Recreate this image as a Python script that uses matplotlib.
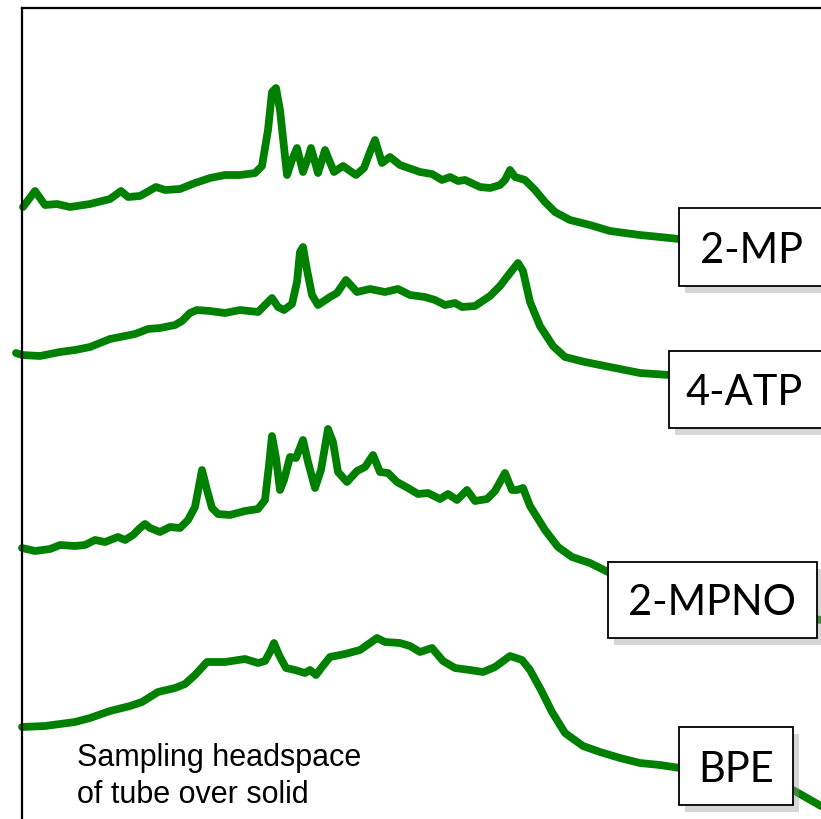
import matplotlib
matplotlib.use("Agg")
import matplotlib.pyplot as plt
import matplotlib.patheffects as pe
from matplotlib.patches import Rectangle

# spectra (x = shift position, y = offset intensity, screen units)
mp2_x = [23, 35, 45, 57, 70, 90, 110, 121, 128, 140, 156, 165, 180, 195, 210, 225, 240, 255, 262,
         268, 272, 276, 280, 287, 292, 297, 303, 308, 311, 318, 322, 325, 334, 343, 356, 364, 370,
         375, 382, 390, 400, 420, 432, 442, 450, 458, 465, 480, 490, 500, 505, 510, 515, 525, 535,
         545, 555, 570, 590, 610, 640, 660, 679]
mp2_y = [207, 191, 205, 204, 207, 204, 199, 191, 197, 196, 187, 190, 189, 183, 178, 175, 175, 173, 166,
         130, 92, 88, 110, 175, 160, 148, 172, 158, 148, 173, 160, 150, 172, 166, 175, 168, 152,
         140, 163, 157, 165, 172, 174, 180, 177, 181, 180, 187, 188, 185, 180, 170, 177, 180, 190,
         202, 212, 220, 225, 231, 235, 237, 239]

atp4_x = [16, 22, 40, 60, 75, 90, 110, 125, 135, 148, 160, 175, 182, 190, 197, 210, 225, 240, 258,
          265, 272, 278, 284, 292, 297, 300, 303, 307, 312, 318, 330, 337, 346, 357, 370, 385, 398,
          410, 425, 435, 445, 455, 462, 475, 490, 500, 510, 518, 523, 530, 540, 553, 565, 585, 610,
          640, 669]
atp4_y = [353, 355, 356, 352, 350, 347, 339, 336, 334, 329, 328, 325, 321, 313, 310, 311, 313, 310, 312,
          305, 298, 307, 310, 304, 282, 252, 247, 270, 295, 305, 297, 293, 280, 292, 289, 292, 289,
          295, 297, 300, 305, 303, 307, 306, 296, 286, 273, 263, 271, 302, 326, 346, 357, 362, 367,
          373, 375]

mpno_x = [22, 35, 50, 60, 75, 85, 95, 105, 118, 125, 133, 140, 145, 150, 160, 170, 180, 188, 195,
          202, 207, 212, 218, 230, 245, 258, 265, 269, 272, 276, 280, 284, 290, 296, 303, 308, 315,
          321, 328, 333, 338, 347, 357, 365, 373, 380, 388, 397, 408, 418, 428, 440, 448, 457, 467,
          475, 487, 495, 505, 512, 517, 523, 530, 545, 558, 572, 590, 608, 650, 700, 760, 821]
mpno_y = [548, 551, 549, 545, 546, 545, 540, 542, 537, 540, 535, 528, 524, 528, 532, 527, 528, 520, 507,
          470, 490, 508, 514, 515, 511, 509, 500, 465, 436, 458, 490, 480, 457, 458, 440, 462, 488,
          470, 429, 442, 472, 482, 471, 467, 455, 472, 473, 482, 488, 494, 493, 499, 494, 500, 490,
          501, 499, 491, 473, 490, 490, 488, 506, 530, 547, 557, 563, 572, 585, 597, 610, 620]

bpe_x = [22, 45, 75, 90, 110, 130, 142, 158, 175, 185, 195, 207, 225, 245, 258, 265, 270, 274, 279,
         286, 295, 305, 310, 316, 322, 330, 345, 360, 370, 377, 385, 400, 410, 420, 432, 443, 455,
         470, 483, 495, 510, 522, 530, 541, 552, 565, 583, 600, 620, 640, 660, 680, 720, 760, 793,
         821]
bpe_y = [727, 726, 722, 718, 711, 706, 702, 692, 688, 684, 675, 662, 662, 659, 663, 661, 652, 643, 655,
         668, 670, 673, 670, 675, 667, 657, 654, 650, 643, 638, 642, 643, 646, 652, 648, 661, 668,
         670, 672, 667, 656, 660, 670, 690, 712, 733, 746, 752, 758, 763, 765, 768, 772, 780, 790,
         806]

series = [(mp2_x, mp2_y), (atp4_x, atp4_y), (mpno_x, mpno_y), (bpe_x, bpe_y)]

labels = ["2-MP", "4-ATP", "2-MPNO", "BPE"]
# label boxes: left, top, right, bottom ; text centre x and baseline y
boxes = [(679, 208, 824, 286), (669, 351, 824, 428), (608, 562, 817, 638), (679, 727, 793, 805)]
text_pos = [(751, 263), (744, 405), (712, 615), (736, 782)]

fig = plt.figure(figsize=(8.21, 8.19), dpi=100)
ax = fig.add_axes([22 / 821, 0, 1 - 22 / 821, (819 - 8) / 819])
ax.set_xlim(22, 821)
ax.set_ylim(819, 8)
ax.set_xticks([])
ax.set_yticks([])
ax.spines["right"].set_visible(False)
ax.spines["bottom"].set_visible(False)
ax.spines["left"].set_linewidth(1.6)
ax.spines["top"].set_linewidth(1.6)

for xs, ys in series:
    ax.plot(xs, ys, color="#008000", lw=5.6, solid_capstyle="round",
            solid_joinstyle="round", clip_on=False, zorder=2)

shadow = [pe.SimplePatchShadow(offset=(4, -5), shadow_rgbFace="#999999", alpha=0.4), pe.Normal()]
for (l, t, r, b), lab, (tx, ty) in zip(boxes, labels, text_pos):
    rect = Rectangle((l, b), r - l, t - b, facecolor="white", edgecolor="black",
                     lw=1.3, zorder=4, clip_on=False)
    rect.set_path_effects(shadow)
    ax.add_patch(rect)
    ax.text(tx, ty, lab, ha="center", va="baseline", fontsize=30,
            family="Lato", color="black", zorder=5)

ax.text(77, 803, "Sampling headspace\nof tube over solid", ha="left", va="baseline",
        fontsize=22, family="Liberation Sans", linespacing=1.3, zorder=3)

fig.savefig("out.png", dpi=100)
